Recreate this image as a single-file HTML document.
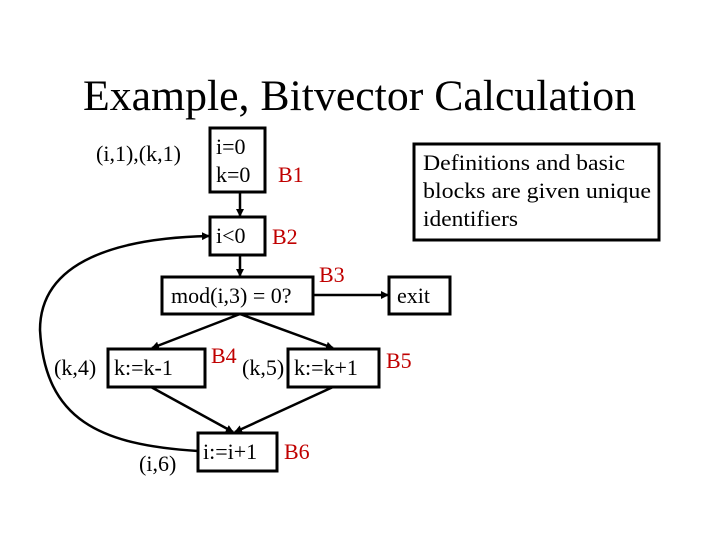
<!DOCTYPE html>
<html><head><style>
body{margin:0;background:#fff;}
svg text{font-family:"Liberation Serif",serif;}
</style></head><body>
<svg width="720" height="540" xmlns="http://www.w3.org/2000/svg">
<defs><marker id="a" markerWidth="8" markerHeight="8" refX="7" refY="4" orient="auto" markerUnits="userSpaceOnUse"><path d="M0,0 L8,4 L0,8 z" fill="#000"/></marker></defs>
<text x="83" y="110" font-size="43" textLength="553" lengthAdjust="spacingAndGlyphs">Example, Bitvector Calculation</text>
<g fill="none" stroke="#000" stroke-width="3">
<rect x="210" y="128" width="55" height="64"/>
<rect x="210" y="217" width="55" height="38"/>
<rect x="162" y="277" width="151" height="37"/>
<rect x="389" y="277" width="61" height="37"/>
<rect x="108" y="349" width="97" height="38"/>
<rect x="288" y="349" width="91" height="38"/>
<rect x="198" y="433" width="79" height="38"/>
<rect x="414" y="144" width="245" height="96"/>
</g>
<g fill="none" stroke="#000" stroke-width="2.5" marker-end="url(#a)">
<line x1="240" y1="192" x2="240" y2="216"/>
<line x1="240" y1="255" x2="240" y2="276"/>
<line x1="313" y1="295" x2="388" y2="295"/>
<line x1="240" y1="314" x2="152" y2="348"/>
<line x1="240" y1="314" x2="333" y2="348"/>
<line x1="151" y1="387" x2="233" y2="432"/>
<line x1="333" y1="387" x2="235" y2="432"/>
<path d="M198,451 C100,445 45,420 40,330 C40,260 120,238 209,236"/>
</g>
<g font-size="22">
<text x="96" y="161">(i,1),(k,1)</text>
<text x="216" y="154">i=0</text>
<text x="216" y="182">k=0</text>
<text x="216" y="243">i&lt;0</text>
<text x="171" y="303">mod(i,3) = 0?</text>
<text x="397" y="303">exit</text>
<text x="54" y="375">(k,4)</text>
<text x="114" y="375">k:=k-1</text>
<text x="242" y="375">(k,5)</text>
<text x="294" y="375">k:=k+1</text>
<text x="203" y="459">i:=i+1</text>
<text x="139" y="471">(i,6)</text>
<text x="423" y="170" textLength="202" lengthAdjust="spacingAndGlyphs">Definitions and basic</text>
<text x="423" y="198" textLength="228" lengthAdjust="spacingAndGlyphs">blocks are given unique</text>
<text x="423" y="226" textLength="95" lengthAdjust="spacingAndGlyphs">identifiers</text>
</g>
<g font-size="22" fill="#c00000">
<text x="278" y="182">B1</text>
<text x="272" y="244">B2</text>
<text x="319" y="282">B3</text>
<text x="211" y="363">B4</text>
<text x="386" y="368">B5</text>
<text x="284" y="459">B6</text>
</g>
</svg>
</body></html>
